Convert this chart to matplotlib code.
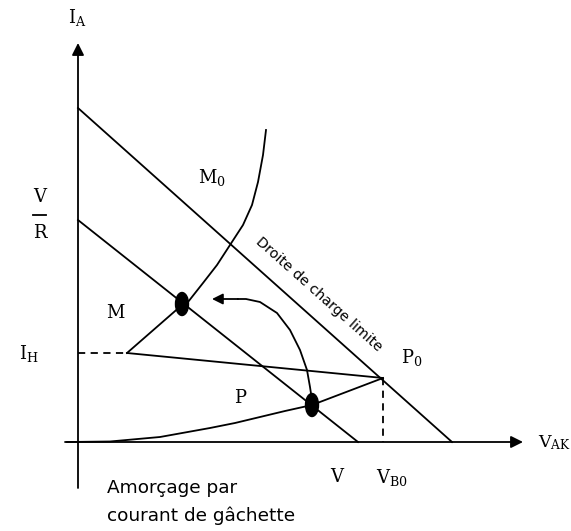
import matplotlib
matplotlib.use("Agg")
import matplotlib.pyplot as plt
from matplotlib.patches import Ellipse

plt.rcParams['mathtext.fontset'] = 'dejavuserif'

# ---- data (schematic coordinates, origin at axes crossing) ----
limit_line_x = [0, 374]
limit_line_y = [334, 0]
load_line_x = [0, 280]
load_line_y = [222, 0]

upper_curve_x = [49, 104, 110, 125, 139, 152, 165, 174, 180, 185, 188]
upper_curve_y = [89, 137, 140, 159, 177, 197, 217, 237, 260, 287, 312]

neg_res_x = [49, 305]
neg_res_y = [89, 64]

lower_curve_x = [-11, 32, 82, 132, 157, 182, 207, 234, 305]
lower_curve_y = [0, 0.5, 5, 14, 19, 25, 31, 37, 64]

ih_dash_x = [0, 49]
ih_dash_y = [89, 89]
vb0_dash_x = [305, 305]
vb0_dash_y = [64, 0]

point_M = (104, 138)
point_P = (234, 37)

jump_x = [234, 232, 229, 222, 212, 199, 182, 168, 160]
jump_y = [42, 55, 72, 92, 112, 129, 140, 143, 143]
jump_tip = (134, 143)

fig = plt.figure(figsize=(5.71, 5.31), dpi=100)
ax = fig.add_axes([0, 0, 1, 1])
ax.set_xlim(-78, 493)
ax.set_ylim(-89, 442)
ax.axis('off')

lc = 'black'
lw = 1.3

# axes with arrows
ax.annotate('', xy=(0, 399), xytext=(0, -46),
            arrowprops=dict(arrowstyle='-|>', color=lc, lw=lw,
                            mutation_scale=18, shrinkA=0, shrinkB=0))
ax.annotate('', xy=(445, 0), xytext=(-13, 0),
            arrowprops=dict(arrowstyle='-|>', color=lc, lw=lw,
                            mutation_scale=18, shrinkA=0, shrinkB=0))

ax.plot(limit_line_x, limit_line_y, color=lc, lw=lw)
ax.plot(load_line_x, load_line_y, color=lc, lw=lw)
ax.plot(upper_curve_x, upper_curve_y, color=lc, lw=lw)
ax.plot(neg_res_x, neg_res_y, color=lc, lw=lw)
ax.plot(lower_curve_x, lower_curve_y, color=lc, lw=lw)
ax.plot(ih_dash_x, ih_dash_y, color=lc, lw=lw, ls=(0, (4, 3)))
ax.plot(vb0_dash_x, vb0_dash_y, color=lc, lw=lw, ls=(0, (4, 3)))

ax.add_patch(Ellipse(point_M, 13, 23, color='black'))
ax.add_patch(Ellipse(point_P, 13, 23, color='black'))

ax.plot(jump_x, jump_y, color=lc, lw=lw, solid_joinstyle='round')
ax.annotate('', xy=jump_tip, xytext=(jump_x[-1], jump_y[-1]),
            arrowprops=dict(arrowstyle='-|>', color=lc, lw=lw,
                            mutation_scale=16, shrinkA=0, shrinkB=0))

serif = dict(fontsize=13, ha='center', va='center', family='DejaVu Serif')
ax.text(-1, 425, r'$\mathrm{I_A}$', **serif)
ax.text(-38, 245, 'V', **serif)
ax.plot([-45, -32], [227, 227], color=lc, lw=lw)
ax.text(-38, 209, 'R', **serif)
ax.text(134, 264, r'$\mathrm{M_0}$', **serif)
ax.text(37, 129, 'M', **serif)
ax.text(-49, 89, r'$\mathrm{I_H}$', **serif)
ax.text(334, 84, r'$\mathrm{P_0}$', **serif)
ax.text(162, 44, 'P', **serif)
ax.text(259, -35, 'V', **serif)
ax.text(314, -35, r'$\mathrm{V_{B0}}$', **serif)
ax.text(460, -1, r'$\mathrm{V_{AK}}$', fontsize=12.5, ha='left', va='center',
        family='DejaVu Serif')

ax.text(241, 148, 'Droite de charge limite', fontsize=10.3, rotation=-41.7,
        rotation_mode='anchor', ha='center', va='center', family='DejaVu Sans')

ax.text(29, -46, 'Amorçage par', fontsize=13.3, ha='left', va='center',
        family='DejaVu Sans')
ax.text(29, -74, 'courant de gâchette', fontsize=13.3, ha='left', va='center',
        family='DejaVu Sans')

fig.savefig('out.png', dpi=100)
